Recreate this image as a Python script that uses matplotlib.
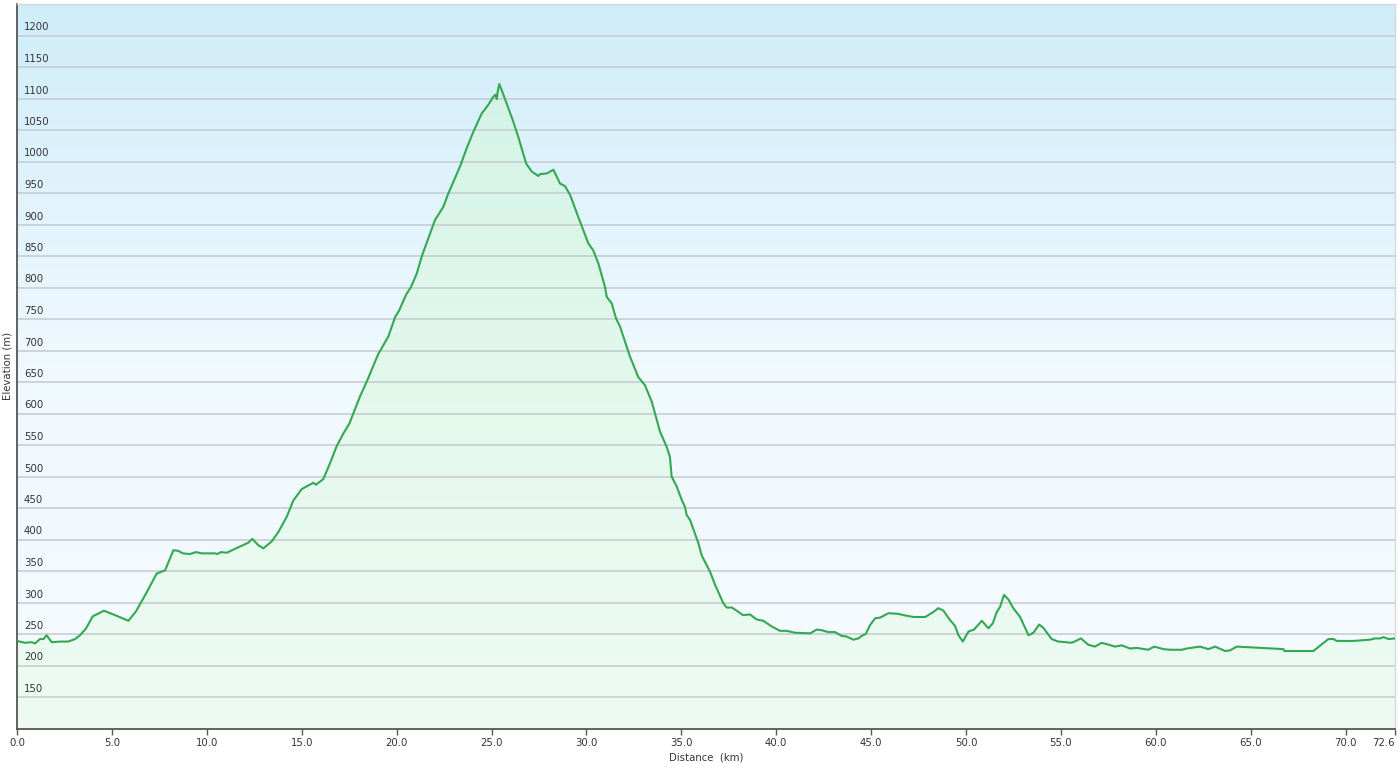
import numpy as np
import matplotlib
matplotlib.use("Agg")
import matplotlib.pyplot as plt
from matplotlib.colors import LinearSegmentedColormap

# elevation profile (distance in km, elevation in m)
dist_km = [0.0, 0.42, 0.77, 0.95, 1.21, 1.39, 1.56, 1.83, 2.27, 2.70, 3.06, 3.32, 3.64, 3.99,
           4.58, 5.16, 5.87, 6.27, 6.83, 7.36, 7.80, 8.24, 8.50, 8.73, 9.12, 9.43, 9.73, 10.43,
           10.55, 10.75, 11.05, 11.40, 12.19, 12.40, 12.71, 12.98, 13.42, 13.77, 14.21, 14.56,
           15.00, 15.61, 15.75, 16.14, 16.49, 16.84, 17.19, 17.51, 18.07, 18.46, 19.04, 19.16,
           19.56, 19.92, 20.14, 20.49, 20.76, 21.06, 21.32, 22.02, 22.46, 22.72, 23.34, 23.69,
           24.04, 24.48, 24.83, 25.10, 25.20, 25.28, 25.31, 25.41, 25.54, 25.80, 26.15, 26.41,
           26.82, 27.12, 27.47, 27.56, 27.91, 28.26, 28.61, 28.87, 29.14, 29.57, 30.10, 30.36,
           30.63, 30.98, 31.07, 31.33, 31.56, 31.77, 32.30, 32.73, 33.08, 33.44, 33.88, 34.23,
           34.40, 34.49, 34.76, 35.02, 35.19, 35.28, 35.46, 35.90, 36.07, 36.51, 36.78, 37.21,
           37.39, 37.66, 37.92, 38.24, 38.62, 38.97, 39.32, 39.76, 40.20, 40.55, 40.99, 41.78,
           42.13, 42.40, 42.74, 43.10, 43.45, 43.71, 44.06, 44.33, 44.50, 44.72, 44.94, 45.21,
           45.47, 45.91, 46.44, 46.70, 47.23, 47.85, 48.28, 48.54, 48.81, 49.16, 49.42, 49.60,
           49.83, 50.13, 50.42, 50.83, 51.18, 51.41, 51.62, 51.79, 52.00, 52.23, 52.49, 52.85,
           53.29, 53.55, 53.85, 54.07, 54.51, 54.86, 55.30, 55.48, 55.65, 56.05, 56.44, 56.79,
           57.14, 57.41, 57.85, 58.20, 58.64, 58.99, 59.60, 59.91, 60.40, 60.75, 61.37, 61.63,
           62.33, 62.77, 63.12, 63.65, 63.91, 64.26, 66.72, 66.77, 68.30, 69.09, 69.36, 69.53,
           70.41, 71.29, 71.55, 71.82, 71.99, 72.26, 72.60]
elev_m = [239, 236, 237, 235, 242, 242, 248, 237, 238, 238, 242, 248, 259, 278,
          287, 280, 271, 286, 316, 346, 351, 383, 382, 378, 377, 380, 378, 378,
          377, 380, 379, 384, 395, 401, 391, 386, 397, 412, 436, 462,
          480, 490, 487, 496, 521, 548, 568, 584, 627, 653, 695, 701,
          722, 753, 764, 788, 801, 822, 849, 907, 928, 949, 992, 1021,
          1047, 1076, 1090, 1103, 1106, 1099, 1108, 1123, 1113, 1092, 1063, 1039,
          997, 984, 977, 980, 981, 987, 965, 961, 947, 912, 870, 859,
          838, 801, 785, 775, 751, 738, 690, 658, 645, 619, 571, 547,
          531, 500, 484, 463, 452, 439, 431, 394, 375, 349, 328, 299,
          292, 292, 287, 280, 281, 273, 271, 262, 255, 255, 252, 251,
          257, 256, 253, 253, 247, 246, 241, 243, 247, 250, 264, 275,
          276, 283, 282, 280, 277, 277, 285, 291, 287, 272, 263, 248,
          238, 254, 257, 271, 259, 267, 285, 293, 312, 305, 291, 277,
          248, 252, 265, 260, 242, 238, 237, 236, 237, 243, 233, 230,
          236, 234, 230, 232, 227, 228, 225, 230, 226, 225, 225, 227,
          230, 226, 230, 223, 224, 230, 226, 223, 223, 242, 242, 239,
          239, 241, 243, 243, 245, 242, 243]

x_ticks = [0, 5, 10, 15, 20, 25, 30, 35, 40, 45, 50, 55, 60, 65, 70, 72.6]
y_ticks = list(range(150, 1201, 50))

fig = plt.figure(figsize=(14, 7.71), dpi=100)
fig.patch.set_facecolor("white")
ax = fig.add_axes([17 / 1400, 1 - 728.5 / 771, 1378 / 1400, 724.5 / 771])
ax.set_xlim(0, 72.6)
ax.set_ylim(100, 1250)

# sky-like background gradient (cyan at top -> near white at bottom)
bg = LinearSegmentedColormap.from_list("bg", ["#f6fbff", "#f0f9fe", "#cfedf9"])
ax.imshow(np.linspace(0, 1, 256).reshape(-1, 1), cmap=bg, origin="lower", aspect="auto",
          extent=(0, 72.6, 100, 1250), zorder=0)

# green gradient under the profile, clipped to the filled area
poly = ax.fill_between(dist_km, elev_m, 100, facecolor="none", edgecolor="none")
fg = LinearSegmentedColormap.from_list("fg", ["#eefbf2", "#e4f8ec", "#d3f3e6"])
img = ax.imshow(np.linspace(0, 1, 256).reshape(-1, 1), cmap=fg, origin="lower", aspect="auto",
                extent=(0, 72.6, 100, 1130), zorder=1)
img.set_clip_path(poly.get_paths()[0], transform=ax.transData)

# horizontal gridlines
for v in y_ticks:
    ax.axhline(v, color="#c3cad1", lw=1.1, zorder=2)

ax.plot(dist_km, elev_m, color="#33a852", lw=1.5, zorder=3, solid_joinstyle="round")

# y labels drawn inside the plot, just above each gridline
ax.set_yticks([])
for v in y_ticks:
    ax.annotate(str(v), xy=(0, v), xycoords=ax.get_yaxis_transform(), xytext=(7, 3),
                textcoords="offset pixels", fontsize=7.3, color="#333333", va="bottom", ha="left",
                zorder=4)

ax.set_xticks(x_ticks)
ax.set_xticklabels([f"{t:.1f}" for t in x_ticks], fontsize=7.3, color="#333333")
ax.get_xticklabels()[-1].set_horizontalalignment("right")
ax.tick_params(axis="x", direction="out", length=4, width=1, color="#555555", pad=3)

for s in ["top", "right"]:
    ax.spines[s].set_color("#d8d8d8")
    ax.spines[s].set_linewidth(1)
for s in ["left", "bottom"]:
    ax.spines[s].set_color("#555555")
    ax.spines[s].set_linewidth(1.3)

ax.set_xlabel("Distance  (km)", fontsize=7.3, color="#333333", labelpad=3)
ax.set_ylabel("Elevation (m)", fontsize=7.3, color="#333333", labelpad=3)

fig.savefig("out.png", dpi=100)
